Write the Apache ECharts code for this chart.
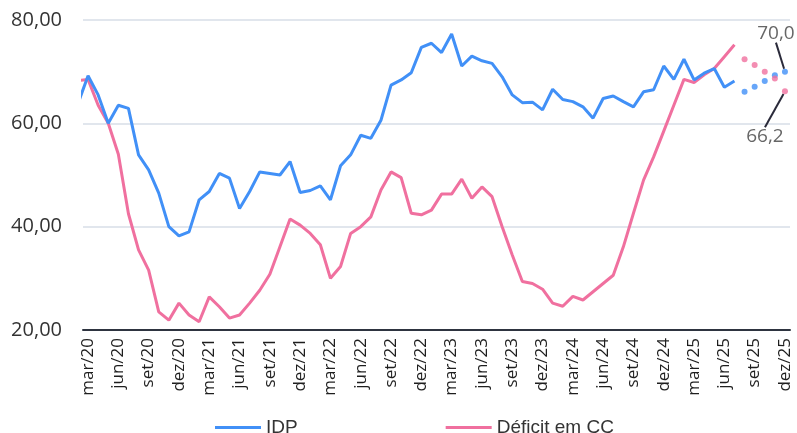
<!DOCTYPE html>
<html>
<head>
<meta charset="utf-8">
<script src="https://cdn.jsdelivr.net/npm/echarts@6/dist/echarts.min.js"></script>
<style>
html, body { margin: 0; padding: 0; background: #fff; }
#chart { width: 797px; height: 433px; }
</style>
</head>
<body>
<div id="chart"></div>
<script>
// rótulos do eixo x (um a cada 3 meses, de mar/20 a dez/25)
var tickLabels = ['mar/20','jun/20','set/20','dez/20','mar/21','jun/21','set/21','dez/21',
    'mar/22','jun/22','set/22','dez/22','mar/23','jun/23','set/23','dez/23',
    'mar/24','jun/24','set/24','dez/24','mar/25','jun/25','set/25','dez/25'];
// posição 0 = fev/20, 1 = mar/20 ... 70 = dez/25
var firstTick = 1;

// IDP observado (fev/20 .. jul/25)
var idp = [63.8,
    69.2, 65.5, 60.0, 63.5, 62.9, 53.9, 51.0, 46.5, 40.0, 38.2,
    39.0, 45.2, 46.8, 50.3, 49.4, 43.5, 46.8, 50.6, 50.3, 50.0,
    52.6, 46.6, 47.0, 47.9, 45.2, 51.8, 53.9, 57.7, 57.1, 60.6,
    67.4, 68.4, 69.8, 74.7, 75.5, 73.7, 77.3, 71.1, 73.0, 72.1,
    71.6, 69.0, 65.5, 64.0, 64.1, 62.6, 66.6, 64.6, 64.2, 63.2,
    61.0, 64.8, 65.3, 64.2, 63.2, 66.1, 66.5, 71.1, 68.5, 72.4,
    68.4, 69.7, 70.6, 67.0, 68.2];
// Déficit em CC observado (fev/20 .. jul/25)
var deficit = [68.3,
    68.5, 63.5, 60.0, 54.0, 42.5, 35.5, 31.6, 23.5, 21.9, 25.2,
    22.9, 21.6, 26.4, 24.5, 22.3, 22.9, 25.2, 27.7, 30.8, 36.1,
    41.5, 40.3, 38.7, 36.5, 30.0, 32.3, 38.7, 40.0, 41.9, 47.1,
    50.6, 49.5, 42.6, 42.3, 43.2, 46.3, 46.3, 49.2, 45.5, 47.7,
    45.8, 40.0, 34.5, 29.4, 29.0, 27.9, 25.2, 24.6, 26.5, 25.8,
    27.4, 29.0, 30.6, 36.1, 42.6, 49.0, 53.5, 58.5, 63.5, 68.5,
    67.9, 69.4, 70.6, 72.9, 75.2];
// projeções (ago/25 .. dez/25)
var idpProj = [66.1, 67.1, 68.2, 69.3, 70.0];
var deficitProj = [72.4, 71.3, 70.0, 68.7, 66.2];

var blue = '#4190f7';
var pink = '#f0709f';

function toPairs(arr, start) {
    return arr.map(function (v, i) { return [start + i, v]; });
}
function virgula(v, d) {
    return v.toFixed(d).replace('.', ',');
}

var projStart = idp.length;
var tickValues = tickLabels.map(function (t, i) { return firstTick + i * 3; });

var idpProjData = toPairs(idpProj, projStart);
idpProjData[idpProjData.length - 1] = {
    value: idpProjData[idpProjData.length - 1].slice(),
    label: { show: true, position: 'top' }
};
var defProjData = toPairs(deficitProj, projStart);
defProjData[defProjData.length - 1] = {
    value: defProjData[defProjData.length - 1].slice(),
    label: { show: true, position: 'bottom' }
};

var chart = echarts.init(document.getElementById('chart'));
var option = {
    animation: false,
    grid: { left: 83, right: 7, top: 20, bottom: 103 },
    legend: {
        data: [{ name: 'IDP', icon: 'rect' }, { name: 'Déficit em CC', icon: 'rect' }],
        left: 210,
        top: 413,
        itemWidth: 46,
        itemHeight: 3,
        itemGap: 148,
        textStyle: { fontFamily: 'Liberation Sans', fontSize: 19, color: '#333' }
    },
    xAxis: {
        type: 'value',
        min: 0.5,
        max: 70.5,
        axisLine: { show: true, onZero: false, lineStyle: { color: '#2e3440', width: 2 } },
        axisTick: { show: false },
        splitLine: { show: false },
        axisLabel: {
            customValues: tickValues,
            rotate: 90,
            margin: 8,
            fontFamily: 'Open Sans',
            fontSize: 17,
            color: '#1e1e1e',
            formatter: function (v) {
                return tickLabels[Math.round((v - firstTick) / 3)];
            }
        }
    },
    yAxis: {
        type: 'value',
        min: 20,
        max: 80,
        interval: 20,
        axisLine: { show: false },
        axisTick: { show: false },
        splitLine: { lineStyle: { color: '#e1e6ed', width: 2 } },
        axisLabel: {
            margin: 21,
            fontFamily: 'Open Sans',
            fontSize: 20,
            color: '#333',
            formatter: function (v) { return virgula(v, 2); }
        }
    },
    series: [
        {
            name: 'IDP',
            type: 'line',
            symbol: 'none',
            data: toPairs(idp, 0),
            lineStyle: { color: blue, width: 3 },
            itemStyle: { color: blue },
            z: 3
        },
        {
            name: 'Déficit em CC',
            type: 'line',
            symbol: 'none',
            data: toPairs(deficit, 0),
            lineStyle: { color: pink, width: 3 },
            itemStyle: { color: pink },
            z: 2
        },
        {
            name: 'IDP projeção',
            type: 'scatter',
            symbolSize: 6,
            data: idpProjData,
            itemStyle: { color: blue },
            label: {
                show: false,
                fontFamily: 'Open Sans',
                fontSize: 19,
                color: '#404040',
                formatter: function (p) { return virgula(p.value[1], 1); }
            },
            labelLayout: { dx: -9, dy: -21 },
            labelLine: { show: true, lineStyle: { color: '#2a2a3a', width: 2 } },
            z: 4
        },
        {
            name: 'Déficit projeção',
            type: 'scatter',
            symbolSize: 6,
            data: defProjData,
            itemStyle: { color: pink },
            label: {
                show: false,
                fontFamily: 'Open Sans',
                fontSize: 19,
                color: '#404040',
                formatter: function (p) { return virgula(p.value[1], 1); }
            },
            labelLayout: { dx: -20, dy: 28 },
            labelLine: { show: true, lineStyle: { color: '#2a2a3a', width: 2 } },
            z: 4
        }
    ]
};
chart.setOption(option);
</script>
</body>
</html>
